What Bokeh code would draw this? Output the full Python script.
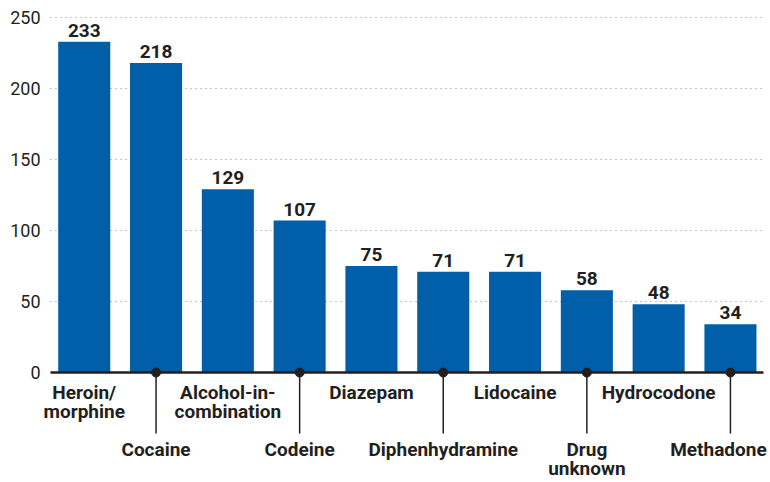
from bokeh.plotting import figure
from bokeh.models import ColumnDataSource
from bokeh.core.properties import value
from bokeh.embed import file_html
from bokeh.resources import INLINE

# ---- data ----
categories = ["Heroin/\nmorphine", "Cocaine", "Alcohol-in-\ncombination", "Codeine",
              "Diazepam", "Diphenhydramine", "Lidocaine", "Drug\nunknown",
              "Hydrocodone", "Methadone"]
values = [233, 218, 129, 107, 75, 71, 71, 58, 48, 34]
y_ticks = [0, 50, 100, 150, 200, 250]

# ---- layout / style ----
W, H = 770, 482
PXU = 1.42            # pixels per data unit (y)
XPU = 71.8            # pixels per category
AX_LEFT = 50          # px where the plotting area starts
TXT_SHIFT = 7.5       # px correction for text baseline placement
BAR_COLOR = "#005FA8"
INK = "#231F20"
FONT = "Roboto"
y_end = 250 + 17 / PXU
y_start = y_end - H / PXU
area_x0 = -0.47
area_x1 = len(categories) - 1 + 0.46
x_start = area_x0 - AX_LEFT / XPU
x_end = x_start + W / XPU

idx = list(range(len(categories)))

p = figure(width=W, height=H, output_backend="svg", toolbar_location=None,
           x_range=(x_start, x_end), y_range=(y_start, y_end),
           x_axis_location=None, y_axis_location=None,
           min_border=0)
p.outline_line_color = None
p.background_fill_color = "white"
p.grid.visible = False

# gridlines (dotted) from the tick list
gt = [t for t in y_ticks if t > 0]
p.segment(x0=[area_x0] * len(gt), y0=gt, x1=[area_x1] * len(gt), y1=gt,
          line_color="#8a8a8a", line_dash="1 4", line_width=1.2)

# y tick labels
p.text(x=[area_x0 - 10 / XPU] * len(y_ticks), y=y_ticks,
       text=[str(t) for t in y_ticks], text_align="right",
       text_baseline="middle", text_font=value(FONT), text_font_size="18px",
       text_color=INK)

src = ColumnDataSource(dict(x=idx, top=values,
                            lab=[str(v) for v in values],
                            ly=[v + (4 + TXT_SHIFT) / PXU for v in values]))
p.vbar(x="x", top="top", bottom=0, width=0.725, source=src,
       fill_color=BAR_COLOR, line_color=None)

# baseline
p.segment(x0=[area_x0], y0=[0], x1=[area_x1], y1=[0],
          line_color=INK, line_width=2.5)

# leader lines & dots for lower-row labels
odd = [i for i in idx if i % 2 == 1]
p.segment(x0=odd, y0=[0] * len(odd), x1=odd, y1=[-61 / PXU] * len(odd),
          line_color=INK, line_width=1.5)
p.scatter(x=odd, y=[0] * len(odd), size=9, color=INK)

# value labels
p.text(x="x", y="ly", text="lab", source=src, text_align="center",
       text_baseline="alphabetic", text_font=value(FONT),
       text_font_style="bold", text_font_size="19px", text_color=INK)

# category labels
row_base = [27, 84]
line_gap = 19.5
nudge = {len(categories) - 1: -12}
lx, lyy, lt = [], [], []
for i, cat in enumerate(categories):
    row = i % 2
    for j, line in enumerate(cat.split("\n")):
        lx.append(i + nudge.get(i, 0) / XPU)
        lyy.append(-(row_base[row] + j * line_gap - TXT_SHIFT) / PXU)
        lt.append(line)
csrc = ColumnDataSource(dict(x=lx, y=lyy, t=lt))
p.text(x="x", y="y", text="t", source=csrc,
       text_align="center", text_baseline="alphabetic",
       text_font=value(FONT), text_font_style="bold",
       text_font_size="19px", text_color=INK)

open("out.html", "w").write(file_html(p, INLINE))
